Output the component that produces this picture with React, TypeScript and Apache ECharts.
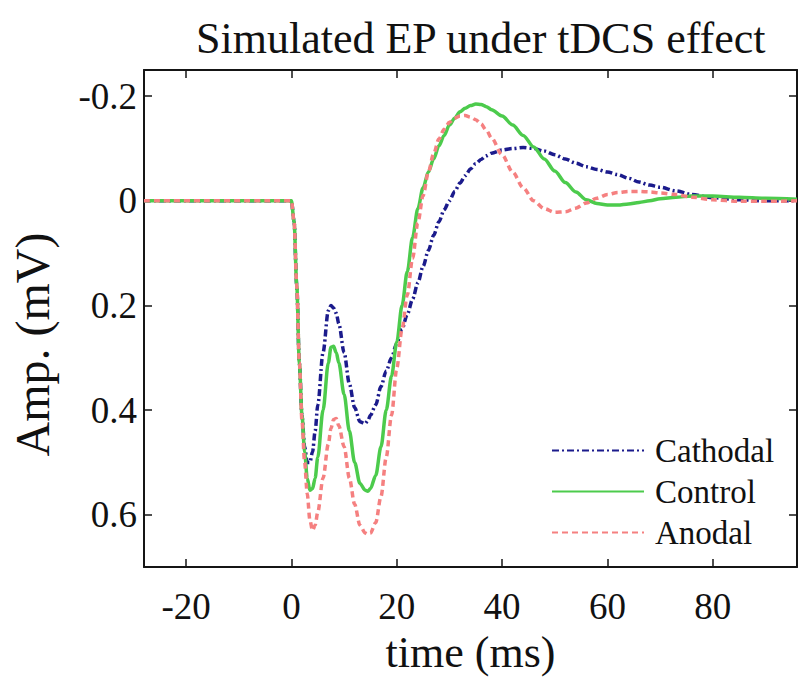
import React, { useEffect, useRef } from "react";
import * as echarts from "echarts";

const FONT = "'Liberation Serif', 'Times New Roman', serif";

const titleText = "Simulated EP under tDCS effect";
const xName = "time (ms)";
const yName = "Amp. (mV)";

const xTicks = [-20, 0, 20, 40, 60, 80];
const xTickLabels = ["-20", "0", "20", "40", "60", "80"];
const yTicks = [-0.2, 0, 0.2, 0.4, 0.6];
const yTickLabels = ["-0.2", "0", "0.2", "0.4", "0.6"];

const seriesNames = ["Cathodal", "Control", "Anodal"];

const time = [
  -28, 0, 0.5, 1, 1.5, 2, 2.5, 3, 3.5, 4, 4.5, 5, 6, 7, 7.5, 8, 8.5, 9, 10, 11,
  12, 13, 14, 14.5, 15, 16, 17, 18, 19, 20, 21, 22, 23, 24, 25, 26, 27, 28, 29,
  30, 31, 32, 33, 34, 35, 36, 37, 38, 40, 42, 44, 46, 48, 50, 52, 54, 56, 58,
  60, 62, 64, 66, 68, 70, 73, 76, 80, 85, 90, 96,
];

const cathodal = [
  0, 0, 0.04, 0.16, 0.31, 0.41, 0.47, 0.5, 0.5, 0.48, 0.44, 0.39, 0.29, 0.21,
  0.2, 0.205, 0.215, 0.235, 0.29, 0.35, 0.395, 0.422, 0.426, 0.42, 0.41, 0.39,
  0.355, 0.325, 0.3, 0.272, 0.245, 0.217, 0.188, 0.157, 0.125, 0.095, 0.066,
  0.04, 0.017, 0.0, -0.018, -0.034, -0.048, -0.061, -0.071, -0.079, -0.086,
  -0.091, -0.097, -0.1, -0.102, -0.1, -0.095, -0.088, -0.08, -0.072, -0.065,
  -0.06, -0.055, -0.05, -0.043, -0.036, -0.03, -0.026, -0.019, -0.012, -0.006,
  -0.002, 0, 0,
];

const control = [
  0, 0, 0.04, 0.16, 0.31, 0.41, 0.48, 0.53, 0.553, 0.55, 0.53, 0.49, 0.4, 0.31,
  0.28, 0.278, 0.29, 0.31, 0.37, 0.44, 0.5, 0.54, 0.553, 0.555, 0.55, 0.525,
  0.47, 0.4, 0.335, 0.27, 0.2, 0.135, 0.07, 0.015, -0.025, -0.055, -0.08,
  -0.105, -0.125, -0.145, -0.158, -0.17, -0.177, -0.182, -0.185, -0.184, -0.18,
  -0.174, -0.162, -0.145, -0.125, -0.103, -0.08, -0.057, -0.035, -0.017,
  -0.002, 0.005, 0.008, 0.008, 0.006, 0.003, 0.0, -0.004, -0.007, -0.009,
  -0.009, -0.007, -0.005, -0.003,
];

const anodal = [
  0, 0, 0.04, 0.16, 0.31, 0.42, 0.5, 0.56, 0.61, 0.63, 0.62, 0.595, 0.53, 0.465,
  0.435, 0.418, 0.416, 0.43, 0.47, 0.53, 0.58, 0.62, 0.635, 0.637, 0.635, 0.615,
  0.565, 0.49, 0.41, 0.32, 0.245, 0.18, 0.11, 0.042, -0.01, -0.055, -0.09,
  -0.118, -0.137, -0.15, -0.158, -0.162, -0.163, -0.16, -0.155, -0.147, -0.135,
  -0.12, -0.088, -0.055, -0.025, 0.0, 0.015, 0.022, 0.021, 0.014, 0.004, -0.005,
  -0.012, -0.016, -0.018, -0.018, -0.017, -0.015, -0.012, -0.007, -0.002,
  0.001, 0.001, 0,
];

const colors = ["#1b1b8c", "#4ccb4c", "#f58080"];
const dashes: any[] = [[7, 3, 2, 3], "solid", [6, 4]];

function labelFor(ticks: number[], labels: string[], v: number) {
  for (let i = 0; i < ticks.length; i++) {
    if (Math.abs(ticks[i] - v) < 1e-6) return labels[i];
  }
  return "";
}

export default function App() {
  const ref = useRef<HTMLDivElement>(null);
  useEffect(() => {
    if (!ref.current) return;
    const chart = echarts.init(ref.current, null, { renderer: "svg" });
    const axisColor = "#151515";
    const values = [cathodal, control, anodal];
    const baseX = {
      type: "value",
      min: -28,
      max: 96,
      splitLine: { show: false },
      axisLine: { show: true, onZero: false, lineStyle: { color: axisColor, width: 2 } },
      axisTick: {
        show: true,
        inside: true,
        length: 8,
        customValues: xTicks,
        lineStyle: { color: axisColor, width: 1.5 },
      },
    };
    const baseY = {
      type: "value",
      min: -0.25,
      max: 0.7,
      inverse: true,
      splitLine: { show: false },
      axisLine: { show: true, onZero: false, lineStyle: { color: axisColor, width: 2 } },
      axisTick: {
        show: true,
        inside: true,
        length: 8,
        customValues: yTicks,
        lineStyle: { color: axisColor, width: 1.5 },
      },
    };
    chart.setOption({
      animation: false,
      backgroundColor: "#ffffff",
      title: {
        text: titleText,
        left: 191,
        top: 11,
        textStyle: { fontSize: 44, fontWeight: "normal", fontFamily: FONT, color: "#111" },
      },
      grid: { left: 141, right: 3, top: 70, bottom: 108 },
      legend: {
        orient: "vertical",
        left: 546,
        top: 429,
        itemWidth: 92,
        itemHeight: 14,
        itemGap: 8,
        data: seriesNames,
        itemStyle: { color: "transparent", borderColor: "transparent", borderWidth: 0 },
        textStyle: { fontSize: 33, fontFamily: FONT, color: "#111", padding: [0, 0, 0, 6] },
      },
      xAxis: [
        {
          ...baseX,
          position: "bottom",
          axisLabel: {
            customValues: xTicks,
            margin: 21,
            fontSize: 37,
            fontFamily: FONT,
            color: "#111",
            formatter: (v: number) => labelFor(xTicks, xTickLabels, v),
          },
          name: xName,
          nameLocation: "middle",
          nameGap: 60,
          nameTextStyle: { fontSize: 44, fontFamily: FONT, color: "#111" },
        },
        { ...baseX, position: "top", axisLabel: { show: false } },
      ],
      yAxis: [
        {
          ...baseY,
          position: "left",
          axisLabel: {
            customValues: yTicks,
            margin: 7,
            fontSize: 37,
            fontFamily: FONT,
            color: "#111",
            formatter: (v: number) => labelFor(yTicks, yTickLabels, v),
          },
          name: yName,
          nameLocation: "middle",
          nameGap: 88,
          nameRotate: 90,
          nameTextStyle: {
            fontSize: 48,
            fontFamily: FONT,
            color: "#111",
            padding: [0, 52, 0, 0],
          },
        },
        { ...baseY, position: "right", axisLabel: { show: false } },
      ],
      series: seriesNames.map((name, k) => ({
        name,
        type: "line",
        xAxisIndex: 0,
        yAxisIndex: 0,
        data: time.map((t, i) => [t, values[k][i]]),
        showSymbol: false,
        symbol: "none",
        smooth: 0.3,
        smoothMonotone: "x",
        z: 2 + k,
        itemStyle: { color: colors[k] },
        lineStyle: { color: colors[k], width: 3.5, type: dashes[k] },
      })),
    });
    return () => chart.dispose();
  }, []);
  return (
    <div
      ref={ref}
      style={{ position: "absolute", left: 0, top: 0, width: 800, height: 679 }}
    />
  );
}
